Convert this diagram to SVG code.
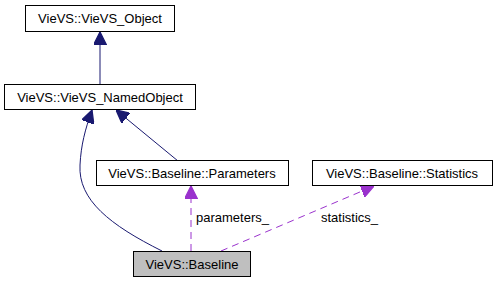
<svg xmlns="http://www.w3.org/2000/svg" width="497" height="283" viewBox="0 0 497 283">
  <style>
    .box { fill: #ffffff; stroke: #000000; stroke-width: 1; }
    .cur { fill: #bfbfbf; stroke: #000000; stroke-width: 1; }
    text { font-family: "Liberation Sans", Arial, sans-serif; font-size: 13px; fill: #000000; }
    .lbl { text-anchor: middle; }
    .inh { fill: none; stroke: #191970; stroke-width: 1; }
    .use { fill: none; stroke: #9a32cd; stroke-width: 1; stroke-dasharray: 7,5; }
  </style>
  <defs>
    <marker id="ah-inh" viewBox="0 0 10 10" refX="10" refY="5" markerWidth="13" markerHeight="13" markerUnits="userSpaceOnUse" orient="auto">
      <path d="M0,0 L10,5 L0,10 Z" fill="#191970" stroke="#191970"/>
    </marker>
    <marker id="ah-use" viewBox="0 0 10 10" refX="10" refY="5" markerWidth="13" markerHeight="13" markerUnits="userSpaceOnUse" orient="auto">
      <path d="M0,0 L10,5 L0,10 Z" fill="#9a32cd" stroke="#9a32cd"/>
    </marker>
  </defs>

  <g id="edges">
    <path class="inh" d="M100,85 L100,32" marker-end="url(#ah-inh)"/>
    <path class="inh" d="M162,251 C110,225 78,200 80,165 C81,145 85,130 92,110" marker-end="url(#ah-inh)"/>
    <path class="inh" d="M178,161 L116,110" marker-end="url(#ah-inh)"/>
    <path class="use" d="M191,251 L191,186" marker-end="url(#ah-use)"/>
    <path class="use" d="M221,251 L374,186" marker-end="url(#ah-use)"/>
    <text x="196" y="222">parameters_</text>
    <text x="321" y="222">statistics_</text>
  </g>

  <g id="node-object">
    <rect class="box" x="25.5" y="5.5" width="149" height="26"/>
    <text class="lbl" x="100" y="23">VieVS::VieVS_Object</text>
  </g>
  <g id="node-named">
    <rect class="box" x="4.5" y="84.5" width="191" height="25"/>
    <text class="lbl" x="100" y="101.5">VieVS::VieVS_NamedObject</text>
  </g>
  <g id="node-parameters">
    <rect class="box" x="96.5" y="160.5" width="192" height="25"/>
    <text class="lbl" x="192" y="177.5">VieVS::Baseline::Parameters</text>
  </g>
  <g id="node-statistics">
    <rect class="box" x="312.5" y="160.5" width="180" height="25"/>
    <text class="lbl" x="402" y="177.5">VieVS::Baseline::Statistics</text>
  </g>
  <g id="node-baseline">
    <rect class="cur" x="133.5" y="251.5" width="117" height="25"/>
    <text class="lbl" x="192" y="268.5">VieVS::Baseline</text>
  </g>
</svg>
